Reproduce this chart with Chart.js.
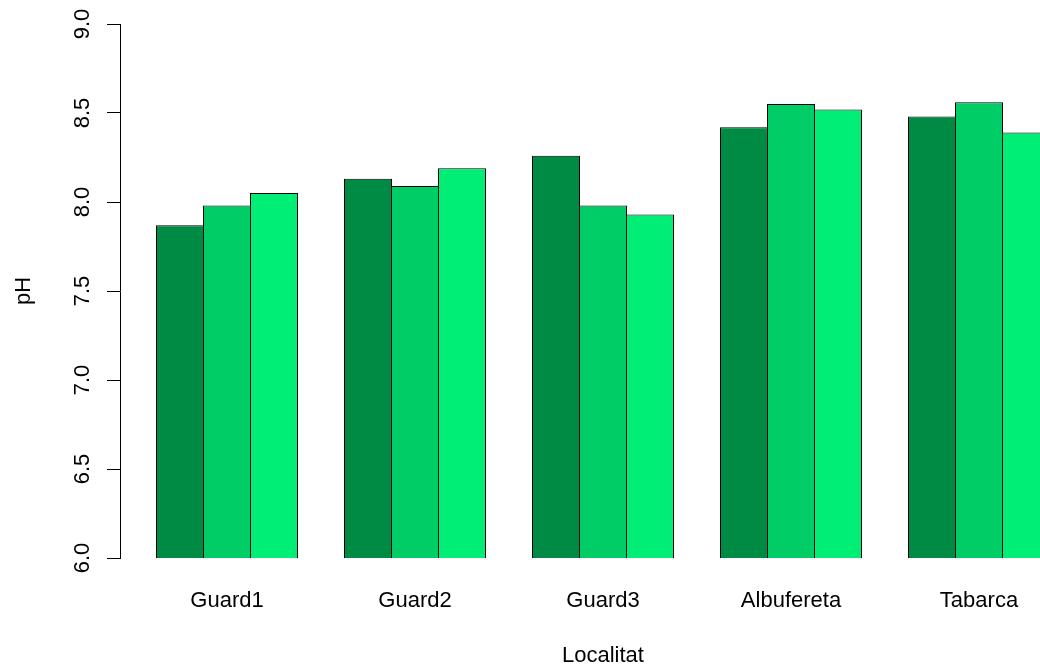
<!DOCTYPE html>
<html lang="ca">
<head>
<meta charset="utf-8">
<title>pH per localitat</title>
<script src="https://cdn.jsdelivr.net/npm/chart.js@4.4.1/dist/chart.umd.min.js"></script>
<style>
  html, body { margin: 0; padding: 0; background: #ffffff; overflow: hidden; }
  #wrap { position: relative; width: 1100px; height: 668px; }
</style>
</head>
<body>
<div id="wrap"><canvas id="grafic"></canvas></div>
<script>
// Localitats i valors de pH de cada mostreig
const localitats = ['Guard1', 'Guard2', 'Guard3', 'Albufereta', 'Tabarca'];
const mostreig1 = [7.87, 8.13, 8.26, 8.42, 8.48];
const mostreig2 = [7.98, 8.09, 7.98, 8.55, 8.56];
const mostreig3 = [8.05, 8.19, 7.93, 8.52, 8.39];
const marquesPH = [6.0, 6.5, 7.0, 7.5, 8.0, 8.5, 9.0];

const colors = ['#008B45', '#00CD66', '#00EE76'];   // springgreen4 / 3 / 2
const FONT = '"Liberation Sans", Arial, Helvetica, sans-serif';

Chart.defaults.font.family = FONT;
Chart.defaults.color = '#000000';

const serie = (nom, valors, color) => ({
  label: nom,
  data: valors.map((v, i) => ({ x: i, y: v })),
  backgroundColor: color,
  borderColor: '#000000',
  borderWidth: 1,
  borderSkipped: 'start'
});

// Etiquetes de l'eix Y girades, paral·leles a l'eix
const etiquetesY = {
  id: 'etiquetesY',
  afterDraw(chart) {
    const s = chart.scales.y;
    const ctx = chart.ctx;
    ctx.save();
    ctx.fillStyle = '#000000';
    ctx.font = '22px ' + FONT;
    ctx.textAlign = 'center';
    ctx.textBaseline = 'alphabetic';
    s.ticks.forEach(t => {
      const py = s.getPixelForValue(t.value);
      ctx.save();
      ctx.translate(s.right - 31, py);
      ctx.rotate(-Math.PI / 2);
      ctx.fillText(t.value.toFixed(1), 0, 0);
      ctx.restore();
    });
    ctx.restore();
  }
};

// Marge lateral de l'eix X, en unitats de localitat
const margeX = 107 / 188;

new Chart(document.getElementById('grafic'), {
  type: 'bar',
  data: {
    datasets: [
      serie('Mostreig 1', mostreig1, colors[0]),
      serie('Mostreig 2', mostreig2, colors[1]),
      serie('Mostreig 3', mostreig3, colors[2])
    ]
  },
  options: {
    responsive: true,
    maintainAspectRatio: false,
    animation: false,
    layout: { padding: { top: 24, right: 14, bottom: 0, left: 0 } },
    // barres contigües: cada una solapa 1 px amb la veïna perquè la vora sigui d'1 px
    datasets: { bar: { categoryPercentage: 0.75, barPercentage: 48 / 47 } },
    plugins: { legend: { display: false }, tooltip: { enabled: false } },
    scales: {
      x: {
        type: 'linear',
        offset: false,
        min: -margeX,
        max: localitats.length - 1 + margeX,
        afterBuildTicks: s => { s.ticks = localitats.map((_, i) => ({ value: i })); },
        afterFit: s => { s.height = 110; s.paddingLeft = 0; s.paddingRight = 0; },
        ticks: {
          callback: v => localitats[v],
          padding: 0,
          color: '#000000',
          font: { size: 22 },
          autoSkip: false,
          maxRotation: 0
        },
        grid: { display: false, drawTicks: true, tickLength: 29.5 },
        border: { display: false },
        title: {
          display: true,
          text: 'Localitat',
          color: '#000000',
          font: { size: 22, lineHeight: 1.12 },
          padding: { top: 0, bottom: 0 }
        }
      },
      y: {
        min: 6,
        max: 9,
        afterBuildTicks: s => { s.ticks = marquesPH.map(v => ({ value: v })); },
        afterFit: s => { s.width = 120; s.paddingTop = 0; s.paddingBottom = 0; },
        ticks: { display: false, callback: v => Number(v).toFixed(1) },
        grid: { drawOnChartArea: false, drawTicks: true, tickLength: 13, color: '#000000', lineWidth: 1 },
        border: { display: true, color: '#000000', width: 1 },
        title: {
          display: true,
          text: 'pH',
          color: '#000000',
          font: { size: 22 },
          padding: { top: 10.3, bottom: 0 }
        }
      }
    }
  },
  plugins: [etiquetesY]
});
</script>
</body>
</html>
